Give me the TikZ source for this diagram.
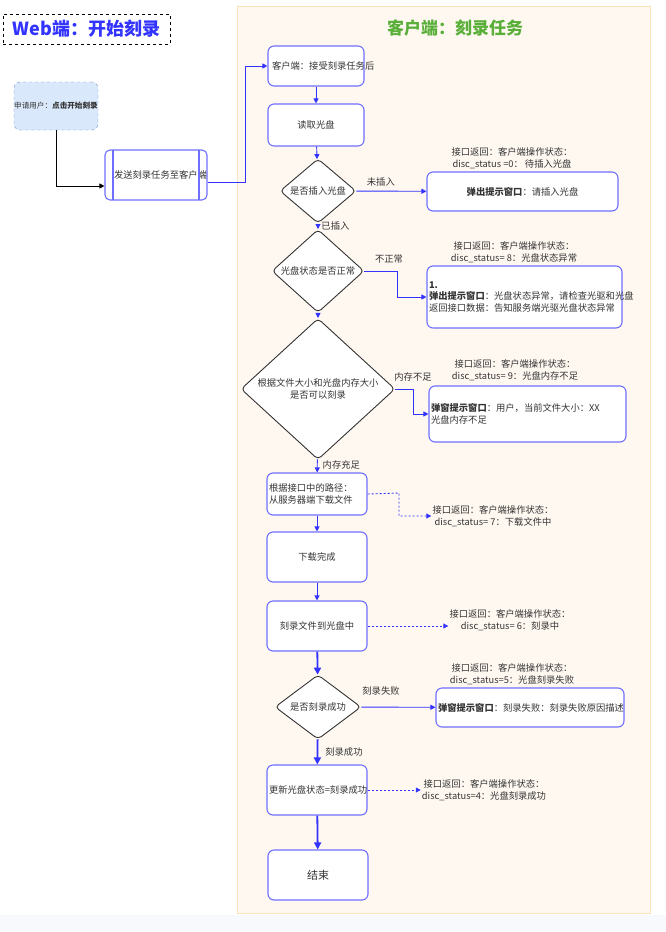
\documentclass[tikz,border=0pt]{standalone}
\usepackage{fontspec}
\setmainfont{Noto Sans CJK SC}
\usetikzlibrary{shapes.geometric,arrows.meta}
\definecolor{edge}{HTML}{3333FF}
\definecolor{bord}{HTML}{6F6FFF}
\definecolor{txt}{HTML}{333333}
\definecolor{panel}{HTML}{FFF8F1}
\definecolor{panelb}{HTML}{FBE3BD}
\definecolor{strip}{HTML}{F8F9FC}
\definecolor{webblue}{HTML}{3333FF}
\definecolor{cgreen}{HTML}{5AAF3A}
\definecolor{applyfill}{HTML}{DAE8FC}
\definecolor{applyb}{HTML}{6C8EBF}
\begin{document}
\begin{tikzpicture}[x=1pt,y=-1pt,
  every node/.style={font=\fontsize{9.3}{11.5}\selectfont,text=txt,inner sep=1pt},
  box/.style={draw=bord,line width=1.1pt,rounded corners=6pt,fill=white,align=center},
  dia/.style={draw=txt,line width=0.9pt,diamond,fill=white,align=center,inner sep=0pt,rounded corners=4pt},
  lbl/.style={align=center},
  ar/.style={draw=edge,line width=0.9pt,-{Triangle[length=5pt,width=5pt]}},
  arb/.style={draw=edge,line width=1.8pt,-{Triangle[length=7pt,width=7pt]}},
  ard/.style={draw=edge,line width=0.9pt,dash pattern=on 2pt off 2pt,-{Triangle[length=5pt,width=5pt]}}]
\useasboundingbox (0,0) rectangle (666,932);
\fill[white] (0,0) rectangle (666,932);
\fill[strip] (0,915) rectangle (666,932);
\draw[panelb,fill=panel] (237,6) rectangle (650,913);
\node[draw=black,dashed,line width=0.8pt,minimum width=167pt,minimum height=30pt,inner sep=0pt,font=\fontsize{18}{20}\selectfont\bfseries,text=webblue] (web) at (86.5,29) {Web端：开始刻录};
\node[font=\fontsize{17}{20}\selectfont\bfseries,text=cgreen] (ct) at (455,28) {客户端：刻录任务};
\node[draw=applyb,dashed,fill=applyfill,rounded corners=6pt,minimum width=84pt,minimum height=48pt,font=\fontsize{7.6}{9}\selectfont,inner sep=0pt] (apply) at (56,106) {申请用户：\textbf{点击开始刻录}};
\node[box,rounded corners=5pt,minimum width=102pt,minimum height=50pt,text width=84pt] (send) at (156,175) {发送刻录任务至客户端};
\draw[bord,line width=1.1pt] (113,150) -- (113,200) (199,150) -- (199,200);
\node[box,minimum width=96pt,minimum height=40pt,text width=88pt] (accept) at (316,66) {客户端：接受刻录任务后};
\node[box,minimum width=96pt,minimum height=42pt] (read) at (316,125) {读取光盘};
\node[dia,minimum width=76pt,minimum height=56pt] (d1) at (318,191) {是否插入光盘};
\node[box,minimum width=191pt,minimum height=39pt] (b1) at (522.5,191.5) {\textbf{弹出提示窗口}：请插入光盘};
\node[lbl] (l1) at (512,158) {接口返回：客户端操作状态：\\disc\_status =0： 待插入光盘};
\node[dia,minimum width=92pt,minimum height=48pt] (d2) at (318,271) {光盘状态是否正常};
\node[box,minimum width=195pt,minimum height=62pt,text width=191pt,align=left] (b2) at (524.5,297) {\textbf{1. 弹出提示窗口}：光盘状态异常，请检查光驱和光盘\\返回接口数据：告知服务端光驱光盘状态异常};
\node[lbl] (l2) at (514,252) {接口返回：客户端操作状态：\\disc\_status= 8：光盘状态异常};
\node[dia,minimum width=154pt,minimum height=122pt] (d3) at (318,389) {根据文件大小和光盘内存大小\\是否可以刻录};
\node[box,minimum width=197pt,minimum height=56pt,text width=193pt,align=left] (b3) at (527.5,414) {\textbf{弹窗提示窗口}：用户，当前文件大小：XX\\光盘内存不足};
\node[lbl] (l3) at (515,370) {接口返回：客户端操作状态：\\disc\_status= 9：光盘内存不足};
\node[box,minimum width=100pt,minimum height=42pt,text width=96pt,align=left] (dl) at (317,494) {根据接口中的路径：\\从服务器端下载文件};
\node[lbl] (l4) at (493,516) {接口返回：客户端操作状态：\\disc\_status= 7：下载文件中};
\node[box,minimum width=100pt,minimum height=50pt] (done) at (317,557) {下载完成};
\node[box,minimum width=100pt,minimum height=50pt] (burn) at (317,626) {刻录文件到光盘中};
\node[lbl] (l5) at (510,620) {接口返回：客户端操作状态：\\disc\_status= 6：刻录中};
\node[dia,minimum width=86pt,minimum height=62pt] (d4) at (318,707) {是否刻录成功};
\node[box,minimum width=188pt,minimum height=39pt,text width=184pt,align=left] (b4) at (530,707.5) {\textbf{弹窗提示窗口}：刻录失败：刻录失败原因描述};
\node[lbl] (l6) at (512,674) {接口返回：客户端操作状态：\\disc\_status=5：光盘刻录失败};
\node[box,minimum width=100pt,minimum height=50pt,text width=96pt,align=left] (upd) at (317,790) {更新光盘状态=刻录成功};
\node[lbl] (l7) at (484,790) {接口返回：客户端操作状态：\\disc\_status=4：光盘刻录成功};
\node[box,minimum width=100pt,minimum height=50pt,font=\fontsize{11}{13}\selectfont] (end) at (318,875) {结束};
% edges
\draw[black,line width=0.9pt,-{Triangle[length=5pt,width=5pt]}] (apply.south) |- (send.west |- 0,186);
\draw[ar] (send.east |- 0,182) -- (245,182) |- (accept.west);
\draw[ar] (accept) -- (read);
\draw[ar] (read) -- (d1);
\draw[ar] (d1) -- node[above=3pt,pos=0.35]{未插入} (b1);
\draw[ar] (d1) -- node[right=2pt,pos=0.35]{已插入} (d2);
\draw[ar] (d2.east) -- (397,271) |- (b2.west);
\node (n1) at (389,259) {不正常};
\draw[ar] (d2) -- (d3);
\draw[ar] (d3.east) -- (413,389) |- (b3.west);
\node (n2) at (413,377) {内存不足};
\draw[ar] (d3) -- node[right=4pt,pos=0.4]{内存充足} (dl);
\draw[ard] (dl.east) -- (399,493) |- (l4.west);
\draw[ar] (dl) -- (done);
\draw[ar] (done) -- (burn);
\draw[ard] (burn) -- (l5.west |- burn);
\draw[arb] (burn) -- (d4);
\draw[ar] (d4) -- (b4);
\node (n3) at (381,691) {刻录失败};
\draw[arb] (d4) -- node[right=6pt,pos=0.5]{刻录成功} (upd);
\draw[ard] (upd) -- (l7);
\draw[arb] (upd) -- (end);
\end{tikzpicture}
\end{document}
